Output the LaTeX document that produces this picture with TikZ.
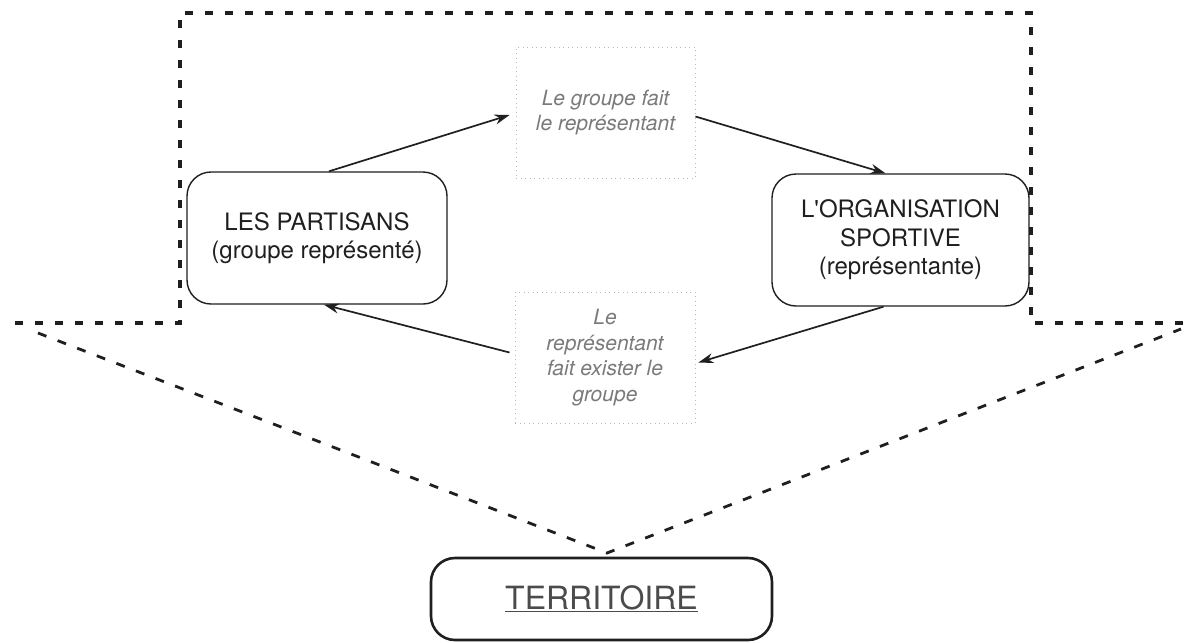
\documentclass[tikz,border=0pt]{standalone}
\usepackage{fontspec}
\setmainfont{TeX Gyre Heros}
\usetikzlibrary{arrows.meta,calc}

\definecolor{ink}{gray}{0.12}
\definecolor{notedraw}{gray}{0.72}
\definecolor{notetext}{gray}{0.48}

\begin{document}
\begin{tikzpicture}[x=1pt,y=-1pt,
  actor/.style={draw=ink, line width=1.4pt, rounded corners=24pt,
    align=center, text=ink, font=\fontsize{24}{28.5}\selectfont},
  note/.style={draw=notedraw, line width=0.9pt, dash pattern=on 1pt off 3.5pt,
    align=center, text=notetext, font=\fontsize{21}{25.5}\selectfont\itshape},
  territory/.style={draw=ink, line width=2.6pt, rounded corners=24pt,
    align=center, text=ink!80, font=\fontsize{32}{38}\selectfont},
  frame/.style={draw=ink, line width=3.2pt, dash pattern=on 8pt off 12pt},
  funnel/.style={draw=ink, line width=2.8pt, dash pattern=on 9pt off 12pt},
  link/.style={draw=ink, line width=1.7pt, -{Stealth[length=15pt,width=10pt]}}
]
\useasboundingbox (0,0) rectangle (1187,643);

% actors of the representation relation
\node[actor, minimum width=260pt, minimum height=132pt] (partisans) at (317,238)
  {LES PARTISANS\\(groupe représenté)};
\node[actor, minimum width=257pt, minimum height=132pt] (orga) at (900.5,240)
  {L\textquotesingle ORGANISATION\\SPORTIVE\\(représentante)};

% the two processes
\node[note, minimum width=179pt, minimum height=131pt] (topbox) at (605.5,112.5)
  {Le groupe fait\\le représentant};
\node[note, minimum width=180pt, minimum height=131pt] (botbox) at (605,357.5)
  {Le\\représentant\\fait exister le\\groupe};

% the territory underneath
\node[territory, minimum width=341pt, minimum height=82pt] (terr) at (601.5,599)
  {\underline{TERRITOIRE}};

% dashed frame around the relation and the funnel towards the territory
\coordinate (apex) at (607,553);
\coordinate (fl) at (38,333);
\coordinate (fr) at (1181,329);
\draw[frame] (15,323) -- (180,323) -- (180,13) -- (1031,13) -- (1031,323)
  -- (1184,323) -- (1185,317);
\draw[funnel] (fl) -- (apex) -- (fr);

% the cycle
\draw[link] ([xshift=12pt]partisans.north) -- ([xshift=-6pt,yshift=-2.5pt]topbox.west);
\draw[link] ([yshift=-4pt]topbox.east) -- ([xshift=-15pt]orga.north);
\draw[link] ([xshift=-17pt]orga.south) -- ([xshift=3pt,yshift=-5pt]botbox.east);
\draw[link] ([xshift=-5pt,yshift=5pt]botbox.west) -- ([xshift=7pt]partisans.south);
\end{tikzpicture}
\end{document}
